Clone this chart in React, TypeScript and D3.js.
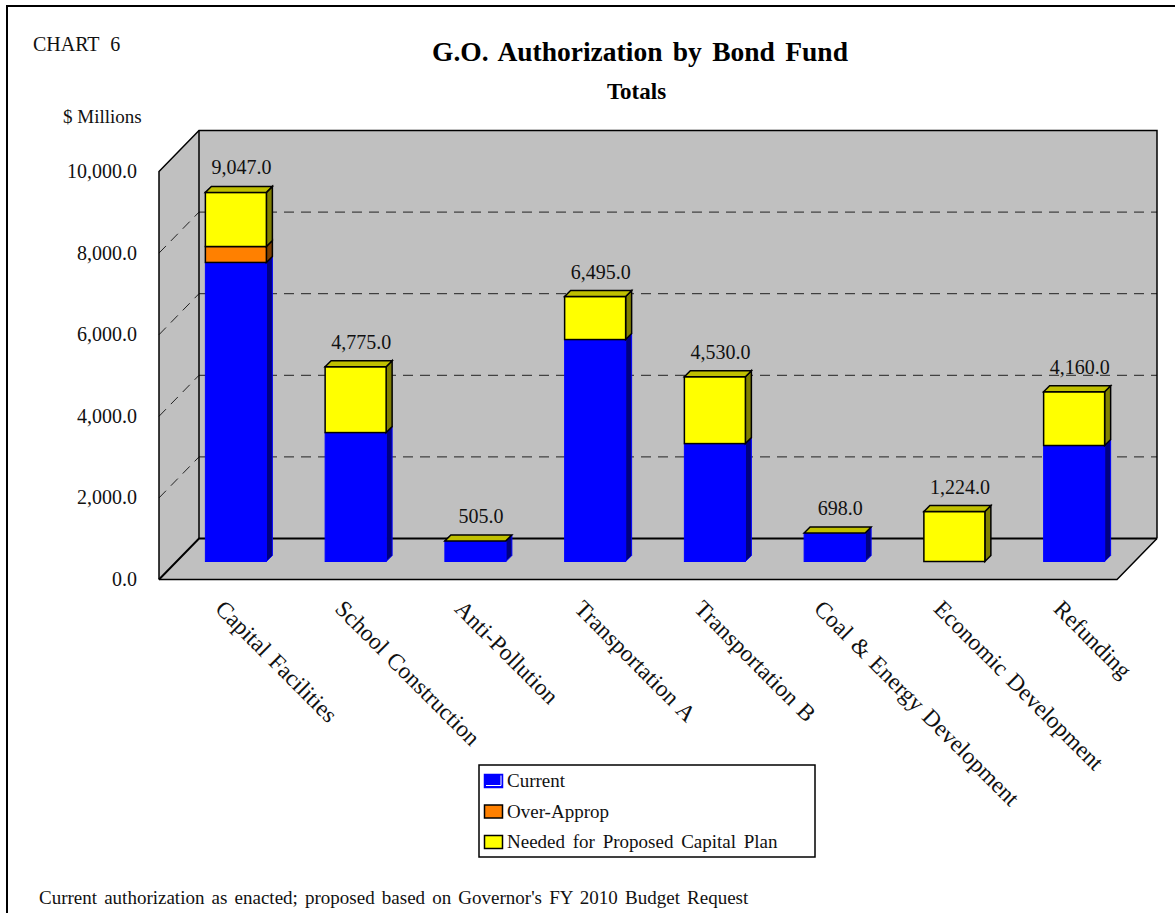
import React from "react";
import * as d3 from "d3";

const categories = ["Capital Facilities","School Construction","Anti-Pollution","Transportation A","Transportation B","Coal & Energy Development","Economic Development","Refunding"];
const current = [7330,3160,505,5440,2890,698,0,2843];
const overApprop = [390,0,0,0,0,0,0,0];
const needed = [1327,1615,0,1055,1640,0,1224,1317];
const totalLabels = ["9,047.0","4,775.0","505.0","6,495.0","4,530.0","698.0","1,224.0","4,160.0"];
const yTicks = [0,2000,4000,6000,8000,10000];
const seriesNames = ["Current","Over-Approp","Needed for Proposed Capital Plan"];
const seriesKeys = ["current","over","needed"];

const FONT = "'Liberation Serif', 'Times New Roman', serif";
const W = 1175, H = 913;
const fx0 = 159, fx1 = 1117, fy0 = 579.5, fy1 = 171.5;
const dx = 40, dy = 41;
const barOff = 18, barXOff = 17, depth = 6, barW = 62;

const x = d3.scaleBand<string>().domain(categories).range([fx0, fx1]);
const y = d3.scaleLinear().domain([0, 10000]).range([fy0, fy1]);
const fmt = d3.format(",.1f");

const colors: Record<string, { front: string; top: string; side: string; stroke: string }> = {
  current: { front: "#0000ff", top: "#0000c0", side: "#000080", stroke: "#0000ff" },
  over: { front: "#ff8000", top: "#c06000", side: "#804000", stroke: "#000" },
  needed: { front: "#ffff00", top: "#c0c000", side: "#808000", stroke: "#000" },
};

function Seg({ cx, v0, v1, k }: { cx: number; v0: number; v1: number; k: string }) {
  if (v1 <= v0) return null;
  const c = colors[k];
  const l = cx - barW / 2 + 0.5, r = cx + barW / 2 - 0.5;
  const b = y(v0) - barOff, t = y(v1) - barOff;
  return (
    <g stroke={c.stroke} strokeWidth={k === "current" ? 1 : 1.5} strokeLinejoin="miter">
      <polygon points={`${r},${b} ${r + depth},${b - depth} ${r + depth},${t - depth} ${r},${t}`} fill={c.side} />
      <rect x={l} y={t} width={r - l} height={b - t} fill={c.front} />
    </g>
  );
}

// the stack always closes with the top face of the last series, even when its value is zero
function TopFace({ cx, v }: { cx: number; v: number }) {
  const c = colors.needed;
  const l = cx - barW / 2 + 0.5, r = cx + barW / 2 - 0.5;
  const t = y(v) - barOff;
  return (
    <polygon points={`${l},${t} ${l + depth},${t - depth} ${r + depth},${t - depth} ${r},${t}`} fill={c.top} stroke="#000" strokeWidth={1.5} />
  );
}

export default function App() {
  const gridVals = yTicks.slice(1, -1);
  return (
    <svg width={W} height={H} viewBox={`0 0 ${W} ${H}`} style={{ position: "absolute", left: 0, top: 0, background: "#fff", fontFamily: FONT }}>
      <path d={`M7,${H} V6 H${W}`} fill="none" stroke="#000" strokeWidth={2} />
      <text x={33} y={51} fontSize={20} fill="#111" wordSpacing={6}>CHART 6</text>
      <text x={640} y={61} fontSize={27.5} fontWeight="bold" textAnchor="middle" wordSpacing={3.5}>G.O. Authorization by Bond Fund</text>
      <text x={636.5} y={98.5} fontSize={23} fontWeight="bold" textAnchor="middle">Totals</text>
      <text x={63} y={123} fontSize={19} fill="#111">$ Millions</text>

      {/* walls */}
      <polygon points={`${fx0 + dx},${fy1 - dy} ${fx1 + dx},${fy1 - dy} ${fx1 + dx},${fy0 - dy} ${fx0 + dx},${fy0 - dy}`} fill="#c0c0c0" />
      <polygon points={`${fx0},${fy1} ${fx0 + dx},${fy1 - dy} ${fx0 + dx},${fy0 - dy} ${fx0},${fy0}`} fill="#c0c0c0" />
      <polygon points={`${fx0},${fy0} ${fx0 + dx},${fy0 - dy} ${fx1 + dx},${fy0 - dy} ${fx1},${fy0}`} fill="#c0c0c0" />
      {gridVals.map((v) => (
        <g key={v} stroke="#222" strokeWidth={1} strokeDasharray="10 7" fill="none">
          <line x1={fx0} y1={y(v)} x2={fx0 + dx} y2={y(v) - dy} />
          <line x1={fx0 + dx} y1={y(v) - dy} x2={fx1 + dx} y2={y(v) - dy} />
        </g>
      ))}
      <g fill="none" stroke="#000">
        <path d={`M${fx0},${fy0} V${fy1} L${fx0 + dx},${fy1 - dy} H${fx1 + dx} V${fy0 - dy}`} strokeWidth={1.5} />
        <line x1={fx0 + dx} y1={fy1 - dy} x2={fx0 + dx} y2={fy0 - dy} strokeWidth={1.5} />
        <path d={`M${fx0},${fy0} L${fx0 + dx},${fy0 - dy} H${fx1 + dx}`} strokeWidth={2} />
        <path d={`M${fx0},${fy0} H${fx1} L${fx1 + dx},${fy0 - dy}`} strokeWidth={1.5} />
      </g>

      {yTicks.map((t) => (
        <text key={t} x={137} y={y(t)} dy={6.5} fontSize={20} textAnchor="end" fill="#111">{fmt(t)}</text>
      ))}

      {categories.map((c, i) => {
        const cx = (x(c) as number) + x.bandwidth() / 2 + barXOff;
        const s0 = current[i], s1 = s0 + overApprop[i], s2 = s1 + needed[i];
        return (
          <g key={c}>
            <Seg cx={cx} v0={0} v1={s0} k="current" />
            <Seg cx={cx} v0={s0} v1={s1} k="over" />
            <Seg cx={cx} v0={s1} v1={s2} k="needed" />
            <TopFace cx={cx} v={s2} />
            <text x={cx + 5.5} y={y(s2) - barOff - 18} fontSize={20} textAnchor="middle" fill="#111">{totalLabels[i]}</text>
            <text transform={`translate(${cx - 22},${610}) rotate(45)`} fontSize={23.4} wordSpacing={2} fill="#111">{c}</text>
          </g>
        );
      })}

      <rect x={479} y={765} width={336} height={92} fill="#fff" stroke="#000" strokeWidth={1.5} />
      {seriesNames.map((n, i) => {
        const sy = 774.5 + i * 30.5;
        const isCur = seriesKeys[i] === "current";
        return (
          <g key={n}>
            <rect x={484.5} y={sy} width={18} height={13} fill={colors[seriesKeys[i]].front} stroke={isCur ? "#0000ff" : "#000"} strokeWidth={1.5} />
            {isCur && <path d={`M486,${sy + 11} H501 V${sy + 1}`} fill="none" stroke="#fff" strokeWidth={1} />}
            <text x={507} y={787 + i * 30.7} fontSize={19} wordSpacing={3} fill="#111">{n}</text>
          </g>
        );
      })}
      <text x={39} y={903.5} fontSize={19} wordSpacing={2.4} fill="#111">Current authorization as enacted; proposed based on Governor's FY 2010 Budget Request</text>
    </svg>
  );
}
